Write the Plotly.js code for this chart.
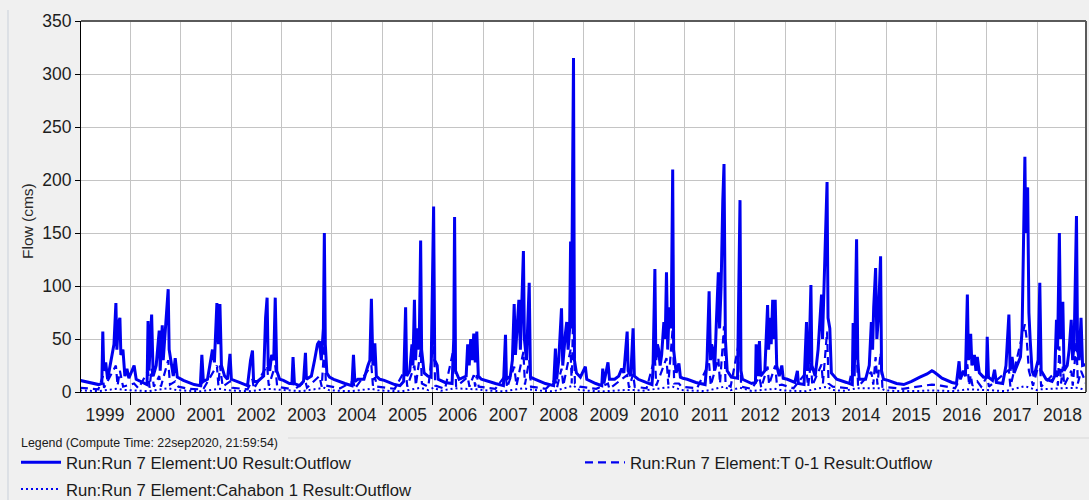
<!DOCTYPE html>
<html>
<head>
<meta charset="utf-8">
<script src="https://cdn.plot.ly/plotly-3.0.1.min.js"></script>
<style>
  html, body { margin: 0; padding: 0; background: #f0f0f0; }
  #chart { width: 1089px; height: 500px; }
</style>
</head>
<body>
<div id="chart"></div>
<script>
// ---------------- DATA ----------------
const seriesNames = [
  "Run:Run 7 Element:U0 Result:Outflow",
  "Run:Run 7 Element:T 0-1 Result:Outflow",
  "Run:Run 7 Element:Cahabon 1 Result:Outflow"
];
const yTitle = "Flow (cms)";
const legendTitle = "Legend (Compute Time: 22sep2020, 21:59:54)";
const xRange = ["1999-01-09", "2018-12-20"];

// U0 outflow (solid)
const u0Dates = [
  "1999-01-01","1999-03-05","1999-05-17","1999-06-09","1999-06-16","1999-06-23","1999-07-07","1999-07-21","1999-08-13","1999-09-05","1999-09-19","1999-09-26","1999-10-07","1999-10-18","1999-10-25","1999-11-09","1999-11-23","1999-12-08","1999-12-22",
  "2000-01-29","2000-02-13","2000-04-10","2000-05-02","2000-05-09","2000-05-16","2000-06-04","2000-06-15","2000-07-07","2000-07-29","2000-08-05","2000-08-20","2000-08-27","2000-09-10","2000-09-21","2000-10-02","2000-10-09","2000-10-24","2000-11-08","2000-11-22","2000-12-07",
  "2001-01-20","2001-04-08","2001-05-23","2001-06-03","2001-06-14","2001-07-14","2001-08-19","2001-09-02","2001-09-20","2001-10-01","2001-10-12","2001-10-23","2001-11-15","2001-12-06","2001-12-24",
  "2002-01-03","2002-03-02","2002-04-30","2002-05-22","2002-06-05","2002-06-13","2002-07-12","2002-08-25","2002-09-08","2002-09-19","2002-09-27","2002-10-08","2002-10-22","2002-11-06","2002-11-17","2002-11-28","2002-12-19",
  "2003-01-15","2003-02-28","2003-03-18","2003-03-26","2003-04-05","2003-05-12","2003-06-10","2003-06-24","2003-07-01","2003-08-06","2003-08-29","2003-09-19","2003-10-03","2003-10-17","2003-11-01","2003-11-08","2003-11-15","2003-11-26","2003-12-15",
  "2004-01-15","2004-04-05","2004-05-26","2004-06-06","2004-06-16","2004-07-08","2004-08-21","2004-09-19","2004-10-03","2004-10-14","2004-10-25","2004-11-08","2004-11-19","2004-12-14",
  "2005-01-15","2005-04-01","2005-05-09","2005-06-05","2005-06-19","2005-06-27","2005-07-19","2005-08-04","2005-08-11","2005-08-22","2005-08-30","2005-09-10","2005-09-25","2005-10-06","2005-10-13","2005-10-31","2005-11-28","2005-12-20",
  "2006-01-08","2006-01-16","2006-02-03","2006-02-10","2006-04-01","2006-05-22","2006-06-03","2006-06-09","2006-06-16","2006-07-12","2006-09-01","2006-09-12","2006-09-23","2006-10-04","2006-10-15","2006-10-26","2006-11-06","2006-11-17","2006-11-28","2006-12-20",
  "2007-01-20","2007-04-01","2007-05-29","2007-06-13","2007-06-20","2007-07-18","2007-08-02","2007-08-15","2007-08-24","2007-09-08","2007-09-18","2007-09-29","2007-10-10","2007-10-21","2007-10-28","2007-11-12","2007-12-02","2007-12-11",
  "2008-01-15","2008-03-28","2008-05-27","2008-06-09","2008-06-18","2008-07-03","2008-07-23","2008-08-01","2008-08-21","2008-08-30","2008-09-09","2008-09-20","2008-09-27","2008-10-03","2008-10-18","2008-10-25","2008-11-08","2008-12-07",
  "2009-01-12","2009-01-22","2009-03-28","2009-05-11","2009-05-18","2009-05-26","2009-06-25","2009-07-06","2009-08-12","2009-09-11","2009-10-03","2009-10-18","2009-11-11","2009-11-18","2009-12-07","2009-12-24",
  "2010-01-02","2010-01-30","2010-03-28","2010-05-10","2010-05-17","2010-05-31","2010-06-07","2010-06-18","2010-06-27","2010-07-08","2010-07-19","2010-08-04","2010-08-14","2010-08-23","2010-09-01","2010-09-12","2010-09-26","2010-10-07","2010-10-14","2010-11-01","2010-11-21","2010-12-02","2010-12-20",
  "2011-01-20","2011-03-25","2011-05-30","2011-06-13","2011-06-28","2011-07-08","2011-07-16","2011-07-26","2011-08-07","2011-08-18","2011-09-03","2011-09-12","2011-09-23","2011-10-05","2011-10-14","2011-10-24","2011-11-06","2011-12-06",
  "2012-01-20","2012-02-07","2012-02-14","2012-02-25","2012-05-01","2012-05-29","2012-06-03","2012-06-14","2012-06-27","2012-07-05","2012-08-05","2012-08-25","2012-09-01","2012-09-12","2012-09-20","2012-10-01","2012-10-08","2012-10-19","2012-10-30","2012-11-17","2012-12-06","2012-12-16",
  "2013-01-15","2013-03-10","2013-03-29","2013-04-05","2013-05-16","2013-06-03","2013-06-10","2013-06-21","2013-07-05","2013-07-12","2013-08-05","2013-08-26","2013-09-06","2013-09-20","2013-09-27","2013-10-08","2013-10-19","2013-10-30","2013-11-06","2013-11-19","2013-11-30",
  "2014-01-08","2014-03-20","2014-05-01","2014-05-07","2014-05-15","2014-06-01","2014-06-10","2014-06-20","2014-08-05","2014-09-01","2014-09-16","2014-09-25","2014-10-03","2014-10-17","2014-10-26","2014-11-06","2014-11-22","2014-11-29","2014-12-13",
  "2015-01-15","2015-03-18","2015-05-09","2015-07-05","2015-09-03","2015-10-25","2015-11-29","2015-12-13",
  "2016-01-12","2016-02-10","2016-04-22","2016-05-25","2016-06-13","2016-06-22","2016-07-14","2016-07-29","2016-08-12","2016-08-20","2016-09-05","2016-09-14","2016-10-02","2016-10-13","2016-10-23","2016-11-07","2016-12-07","2016-12-28",
  "2017-01-03","2017-01-12","2017-02-10","2017-02-25","2017-03-10","2017-04-25","2017-05-19","2017-06-09","2017-06-18","2017-07-02","2017-07-17","2017-08-08","2017-09-01","2017-09-13","2017-09-21","2017-10-03","2017-10-09","2017-10-16","2017-10-23","2017-11-01","2017-11-10","2017-11-24","2017-12-09",
  "2018-01-07","2018-01-19","2018-01-29","2018-03-06","2018-04-18","2018-05-07","2018-05-20","2018-05-28","2018-06-10","2018-06-19","2018-07-05","2018-07-14","2018-08-06","2018-08-20","2018-09-04","2018-09-14","2018-09-25","2018-10-12","2018-10-20","2018-10-31","2018-11-14","2018-11-25","2018-12-20"
];
const u0Flow = [
  11,9,7,8,57,20,28,12,30,45,84,40,65,70,35,40,15,22,13,
  25,12,8,7,67,20,73,15,25,58,20,63,30,55,75,97,40,25,15,32,14,
  11,7,6,35,10,12,40,28,84,45,83,25,15,12,36,
  12,9,6,30,39,10,10,15,70,89,25,20,35,30,89,20,12,
  11,8,8,33,8,6,10,37,12,15,30,45,48,30,60,150,45,18,14,
  12,8,6,35,10,12,12,25,30,88,25,46,15,12,
  11,7,6,10,80,15,20,45,25,87,30,60,40,143,40,18,15,14,
  175,30,25,12,9,8,50,165,20,12,15,45,25,50,30,55,28,57,15,12,
  11,8,6,54,12,15,30,83,35,70,87,40,100,133,50,30,103,14,
  12,8,6,41,12,30,79,25,56,66,40,60,142,60,315,30,18,14,
  24,12,8,6,22,8,28,12,12,15,22,18,57,20,15,60,
  15,12,9,7,20,116,30,45,40,25,35,66,50,113,40,80,60,210,40,18,27,14,13,
  12,9,7,30,95,30,45,40,20,60,113,60,100,180,215,50,20,14,
  13,181,20,12,8,9,45,15,48,15,20,82,40,70,45,87,50,87,25,15,25,13,
  12,9,20,8,7,66,20,30,101,25,15,40,60,92,50,100,150,198,70,60,18,
  12,9,7,65,15,144,30,12,12,25,66,40,80,117,50,70,128,20,12,
  11,8,7,10,14,17,20,19,
  16,13,9,8,29,12,20,15,92,30,55,25,35,20,33,18,14,14,
  52,14,11,21,9,8,25,73,20,33,18,25,33,60,120,222,150,190,193,75,50,20,15,
  30,103,20,12,10,15,68,40,150,50,85,20,25,40,68,30,45,166,40,30,70,25,26
];

// T 0-1 outflow (dashed)
const t01Dates = [
  "1999-01-01","1999-05-15","1999-06-16","1999-06-25","1999-09-19","1999-10-01","1999-10-18","1999-11-10",
  "2000-01-29","2000-03-01","2000-05-09","2000-05-20","2000-06-04","2000-06-20","2000-07-29","2000-08-10","2000-10-02","2000-10-15","2000-11-22","2000-12-15",
  "2001-03-01","2001-05-25","2001-06-03","2001-06-15","2001-09-20","2001-10-01","2001-10-12","2001-11-01","2001-12-24",
  "2002-01-10","2002-05-01","2002-06-05","2002-06-15","2002-09-19","2002-10-01","2002-11-17","2002-12-01",
  "2003-03-01","2003-03-26","2003-04-10","2003-06-24","2003-07-05","2003-10-03","2003-10-20","2003-11-08","2003-11-20",
  "2004-03-01","2004-06-06","2004-06-16","2004-10-14","2004-10-25","2004-11-08","2004-11-25",
  "2005-04-01","2005-06-19","2005-07-01","2005-08-22","2005-09-01","2005-10-06","2005-10-15","2005-12-01",
  "2006-01-08","2006-01-20","2006-04-01","2006-06-09","2006-06-20","2006-09-12","2006-09-25","2006-10-26","2006-11-05","2006-11-17","2006-12-01",
  "2007-04-01","2007-06-13","2007-06-25","2007-08-15","2007-09-01","2007-10-21","2007-11-01","2007-12-02","2007-12-15",
  "2008-04-01","2008-06-09","2008-06-20","2008-07-23","2008-08-05","2008-09-27","2008-10-05","2008-10-18","2008-10-28","2008-12-01",
  "2009-04-01","2009-06-25","2009-07-05","2009-11-11","2009-11-25","2009-12-24",
  "2010-01-05","2010-04-01","2010-05-31","2010-06-10","2010-08-23","2010-09-05","2010-10-07","2010-10-18","2010-11-21","2010-12-10",
  "2011-04-01","2011-06-28","2011-07-10","2011-09-03","2011-09-15","2011-10-14","2011-10-25","2011-12-01",
  "2012-02-07","2012-02-15","2012-05-01","2012-06-27","2012-07-10","2012-08-25","2012-09-05","2012-10-19","2012-11-01","2012-12-06",
  "2013-03-01","2013-06-03","2013-06-15","2013-07-05","2013-07-15","2013-09-20","2013-09-30","2013-10-30","2013-11-10","2013-12-10",
  "2014-04-01","2014-06-01","2014-06-12","2014-09-16","2014-09-30","2014-10-17","2014-10-30","2014-11-22","2014-12-05",
  "2015-05-01","2015-09-01","2015-11-29",
  "2016-02-01","2016-05-15","2016-08-12","2016-08-25","2016-09-05","2016-09-18","2016-10-23","2016-11-20",
  "2017-01-03","2017-01-15","2017-06-09","2017-06-20","2017-10-03","2017-10-16","2017-11-01","2017-12-01",
  "2018-01-19","2018-01-29","2018-05-20","2018-05-30","2018-06-10","2018-06-22","2018-07-05","2018-07-15","2018-09-04","2018-09-15","2018-10-12","2018-10-22","2018-11-14","2018-12-20"
];
const t01Flow = [
  4,2.5,15,4,25,6,20,5,
  8,3.5,20,4,22,5,15,5,30,7,10,5,
  3,2.5,10,3,25,6,25,5,10,
  4,2.5,12,3,25,6,25,5,
  3,10,3,10,4,15,5,45,6,
  3.5,10,3,25,6,14,5,
  3,22,5,25,6,40,8,5,
  50,6,3,45,5,14,5,16,5,16,5,
  3,16,4,24,6,38,7,30,5,
  3,12,4,22,6,40,8,90,8,5,
  3,8,3,16,4,17,
  5,3.5,33,6,32,7,60,8,8,5,
  3.5,27,6,32,8,62,8,5,
  52,5,3,14,4,24,7,25,6,7,
  3.5,19,5,29,6,26,8,57,8,5,
  3.5,41,5,19,7,33,7,37,5,
  3,5,7,
  6,3.5,26,6,16,6,10,5,
  15,5,21,5,64,50,20,6,
  30,5,20,6,43,8,24,6,20,6,48,8,20,8
];

// Cahabon 1 outflow (dotted)
const cahDates = [
  "1999-01-01","1999-05-15","1999-09-20","1999-11-15",
  "2000-03-01","2000-05-20","2000-10-02","2000-12-01",
  "2001-03-01","2001-05-25","2001-10-12","2001-12-01",
  "2002-03-01","2002-05-25","2002-09-19","2002-11-20",
  "2003-03-01","2003-05-25","2003-11-08","2003-12-15",
  "2004-03-01","2004-05-25","2004-10-14","2004-12-01",
  "2005-03-01","2005-05-25","2005-10-06","2005-12-01",
  "2006-01-08","2006-03-01","2006-06-09","2006-11-17",
  "2007-03-01","2007-05-29","2007-10-21","2007-12-02",
  "2008-03-01","2008-05-27","2008-10-18","2008-12-01",
  "2009-03-01","2009-05-20","2009-11-11","2009-12-24",
  "2010-03-01","2010-05-31","2010-10-07","2010-12-10",
  "2011-03-01","2011-05-30","2011-10-14","2011-12-01",
  "2012-02-07","2012-05-01","2012-10-19","2012-12-06",
  "2013-03-01","2013-05-26","2013-10-30","2013-12-10",
  "2014-03-01","2014-06-01","2014-11-22","2014-12-24",
  "2015-03-01","2015-06-01","2015-09-01","2015-11-29",
  "2016-02-01","2016-05-15","2016-08-12","2016-12-01",
  "2017-01-03","2017-05-15","2017-10-03","2017-12-27",
  "2018-01-19","2018-06-10","2018-10-12","2018-12-20"
];
const cahFlow = [
  1.5,0.8,3,2,
  1.2,0.9,3.5,1.8,
  1.1,0.7,3,1.7,
  1.1,0.8,3,2.5,
  1.2,0.7,4,1.6,
  1.1,0.8,3,1.6,
  1.0,0.7,4,1.8,
  4,1.2,3.5,2.5,
  1.1,0.7,3.5,2.5,
  1.1,0.7,6,1.8,
  1.0,0.6,2,2,
  1.2,3,5,1.8,
  1.1,0.8,5,1.8,
  4,1,3,1.6,
  1.1,0.8,5,1.8,
  1.1,3.5,3.5,1.6,
  1.0,0.7,1,1.5,
  1.3,0.8,2.5,1.5,
  1.8,0.8,5.5,1.8,
  2.5,3.5,4,2
];

// ---------------- CHART ----------------
const W = 1089, H = 500;
const M = {l: 81, r: 3, t: 21, b: 108, autoexpand: false};
const PW = W - M.l - M.r, PH = H - M.t - M.b;
const px2x = px => (px - M.l) / PW;     // pixel -> paper x
const px2y = py => (H - M.b - py) / PH; // pixel -> paper y

const FONT = "Liberation Sans, Arial, sans-serif";
const BLUE = "#0000f0";

const traces = [
  {x: u0Dates, y: u0Flow, name: seriesNames[0], type: "scatter", mode: "lines",
   line: {color: BLUE, width: 3}, legend: "legend", legendgroup: "a"},
  {x: t01Dates, y: t01Flow, name: seriesNames[1], type: "scatter", mode: "lines",
   line: {color: BLUE, width: 2.2, dash: "8px,5px"}, legend: "legend2", legendgroup: "b"},
  {x: cahDates, y: cahFlow, name: seriesNames[2], type: "scatter", mode: "lines",
   line: {color: BLUE, width: 2, dash: "2px,3px"}, legend: "legend", legendgroup: "c"}
];

const gridC = "#c4c4c4";
const layout = {
  width: W, height: H,
  margin: M,
  paper_bgcolor: "#f0f0f0",
  plot_bgcolor: "#ffffff",
  font: {family: FONT, color: "#1a1a1a"},
  showlegend: true,
  xaxis: {
    type: "date", range: xRange,
    tick0: "1999-01-01", dtick: "M12", tickformat: "%Y", ticklabelmode: "period",
    ticks: "outside", ticklen: 12, tickwidth: 1, tickcolor: "#000",
    ticklabelstandoff: -5,
    showgrid: true, gridcolor: gridC, gridwidth: 1,
    showline: true, linecolor: "#000", linewidth: 1,
    tickfont: {family: FONT, size: 17.5, color: "#1e1e1e"},
    zeroline: false, fixedrange: true
  },
  yaxis: {
    range: [0, 350], dtick: 50, tick0: 0,
    ticks: "outside", ticklen: 5, tickwidth: 1, tickcolor: "#000",
    showgrid: true, gridcolor: gridC, gridwidth: 1,
    showline: true, linecolor: "#000", linewidth: 1,
    tickfont: {family: FONT, size: 17.5, color: "#1e1e1e"},
    zeroline: false, fixedrange: true
  },
  legend: {
    x: px2x(16), xanchor: "left", y: px2y(445), yanchor: "top",
    orientation: "v", bgcolor: "rgba(0,0,0,0)", borderwidth: 0,
    font: {family: FONT, size: 16.7, color: "#1a1a1a"},
    traceorder: "grouped", tracegroupgap: 2, itemwidth: 40
  },
  legend2: {
    x: px2x(580), xanchor: "left", y: px2y(445), yanchor: "top",
    orientation: "v", bgcolor: "rgba(0,0,0,0)", borderwidth: 0,
    font: {family: FONT, size: 16.7, color: "#1a1a1a"},
    itemwidth: 40
  },
  annotations: [
    {text: yTitle, xref: "paper", yref: "paper", x: px2x(27.5), y: px2y(221.5),
     xanchor: "center", yanchor: "middle", textangle: -90, showarrow: false,
     font: {family: FONT, size: 15.5, color: "#2a2a2a"}},
    {text: legendTitle, xref: "paper", yref: "paper", x: px2x(19), y: px2y(443),
     xanchor: "left", yanchor: "middle", showarrow: false,
     font: {family: FONT, size: 12.4, color: "#1a1a1a"}}
  ],
  shapes: [
    {type: "line", xref: "paper", yref: "paper", x0: 0, x1: 1, y0: 1, y1: 1,
     line: {color: "#5a5a5a", width: 2}},
    {type: "line", xref: "paper", yref: "paper", x0: 1, x1: 1, y0: 0, y1: 1,
     line: {color: "#5a5a5a", width: 2}},
    {type: "line", xref: "paper", yref: "paper", x0: px2x(8), x1: px2x(8), y0: px2y(500), y1: px2y(10),
     line: {color: "#c9d0da", width: 1}},
    {type: "line", xref: "paper", yref: "paper", x0: px2x(288), x1: px2x(1089), y0: px2y(438), y1: px2y(438),
     line: {color: "#d8d8d8", width: 1}}
  ]
};

Plotly.newPlot("chart", traces, layout, {staticPlot: true, displayModeBar: false});
</script>
</body>
</html>
